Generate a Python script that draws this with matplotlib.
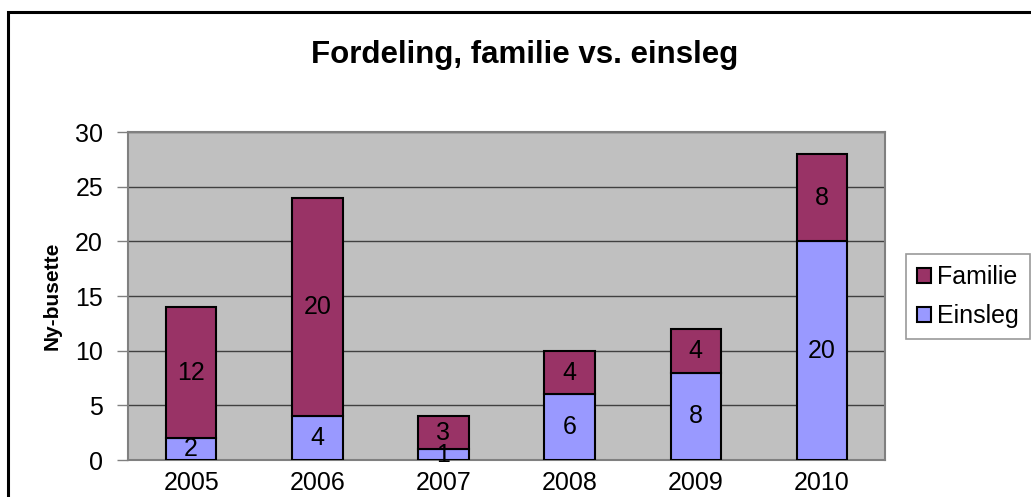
import matplotlib.pyplot as plt
from matplotlib.patches import Rectangle, Patch
import numpy as np

plt.rcParams['font.family'] = ['Liberation Sans', 'DejaVu Sans']

years = ['2005', '2006', '2007', '2008', '2009', '2010']
einsleg = [2, 4, 1, 6, 8, 20]
familie = [12, 20, 3, 4, 4, 8]

c_eins = '#9999FF'
c_fam = '#993366'

fig = plt.figure(figsize=(10.31, 4.97), dpi=100)
ax = fig.add_axes([0.1242, 0.0744, 0.7342, 0.66])
ax.set_facecolor('#C0C0C0')

x = np.arange(len(years))
b1 = ax.bar(x, einsleg, width=0.4, color=c_eins, edgecolor='black', linewidth=1.5, zorder=3)
b2 = ax.bar(x, familie, width=0.4, bottom=einsleg, color=c_fam, edgecolor='black', linewidth=1.5, zorder=3)

for i in range(len(years)):
    ax.text(x[i], einsleg[i] / 2, str(einsleg[i]), ha='center', va='center', fontsize=18, zorder=4)
    ax.text(x[i], einsleg[i] + familie[i] / 2, str(familie[i]), ha='center', va='center', fontsize=18, zorder=4)

ax.set_xlim(-0.5, len(years) - 0.5)
ax.set_ylim(0, 30)
ax.set_yticks(range(0, 31, 5))
ax.set_xticks(x)
ax.set_xticklabels(years)
ax.tick_params(axis='y', labelsize=18, length=8, color='#808080', width=1, pad=10)
ax.tick_params(axis='x', labelsize=18, length=0, pad=8)
ax.yaxis.grid(True, color='#404040', linewidth=1, zorder=1)
for s in ['left', 'bottom', 'top', 'right']:
    ax.spines[s].set_color('#808080')
    ax.spines[s].set_linewidth(1.5)

ax.set_ylabel('Ny-busette', fontsize=15, fontweight='bold', labelpad=10)

fig.text(0.509, 0.889, 'Fordeling, familie vs. einsleg', ha='center', va='center',
         fontsize=22.5, fontweight='bold')

handles = [Patch(facecolor=c_fam, edgecolor='black', linewidth=1.5, label='Familie'),
           Patch(facecolor=c_eins, edgecolor='black', linewidth=1.5, label='Einsleg')]
leg = fig.legend(handles=handles, loc='upper left', bbox_to_anchor=(0.879, 0.489),
                 fontsize=18, frameon=True, fancybox=False, edgecolor='#808080',
                 handlelength=0.55, handleheight=0.55, handletextpad=0.25,
                 labelspacing=0.6, borderpad=0.45, borderaxespad=0)
leg.get_frame().set_linewidth(1.2)

# chart border
fig.patches.append(Rectangle((8 / 1031, -0.1), 1.2, 1 - 12 / 497 + 0.1,
                             transform=fig.transFigure, fill=False,
                             edgecolor='black', linewidth=2.2))

fig.savefig('out.png', dpi=100)
